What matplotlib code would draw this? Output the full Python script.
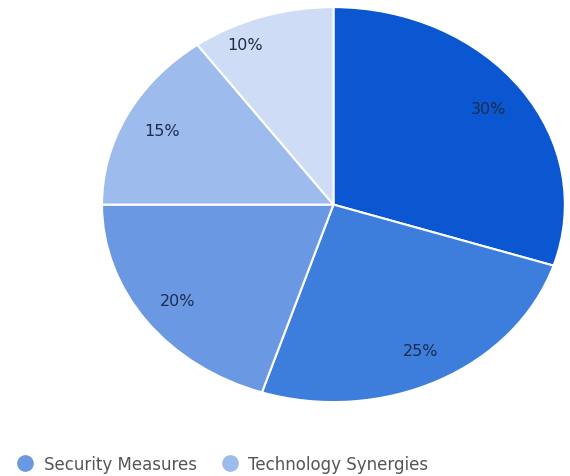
import matplotlib.pyplot as plt
from matplotlib.lines import Line2D

plt.rcParams['font.family'] = ['DejaVu Sans']

# Slice data, clockwise from 12 o'clock
categories = ['Category A', 'Category B', 'Security Measures', 'Technology Synergies', 'Category E']
shares = [30, 25, 20, 15, 10]
colors = ['#0b56d1', '#3d7edc', '#6b98e2', '#9dbbec', '#cedcf5']
legend_names = ['Security Measures', 'Technology Synergies']
legend_colors = ['#6b98e2', '#9dbbec']

fig = plt.figure(figsize=(5.70, 4.77), dpi=100)
ax = fig.add_axes([0.179, 0.155, 0.812, 0.828])

wedges, texts, pcts = ax.pie(
    shares, colors=colors, startangle=90, counterclock=False,
    autopct='%d%%', pctdistance=0.83, radius=1,
    wedgeprops=dict(edgecolor='white', linewidth=1.5),
    textprops=dict(color='#1d2c4c', fontsize=11.5),
)
ax.set_aspect('auto')
ax.set_xlim(-1, 1)
ax.set_ylim(-1, 1)

# Google-style placement: smallest label nudged toward the slice interior
pcts[4].set_position((-0.38, 0.81))

handles = [Line2D([], [], marker='o', linestyle='none', markersize=11,
                  markerfacecolor=c, markeredgecolor=c) for c in legend_colors]
fig.legend(handles, legend_names, loc='center left', bbox_to_anchor=(0.015, 0.025),
           ncol=2, frameon=False, fontsize=12, labelcolor='#555555',
           handletextpad=0.1, columnspacing=1.0, borderaxespad=0, borderpad=0)

fig.savefig('out.png')
